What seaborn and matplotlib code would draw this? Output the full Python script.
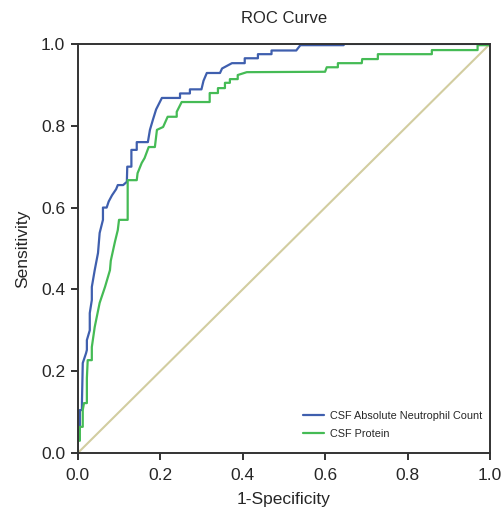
import pandas as pd
import seaborn as sns
import matplotlib.pyplot as plt

# courbe ROC - CSF Absolute Neutrophil Count
anc_fpr = [0.0, 0.0, 0.0, 0.005, 0.005, 0.01, 0.01, 0.012, 0.02, 0.022, 0.022, 0.029, 0.029,
           0.034, 0.034, 0.041, 0.049, 0.053, 0.061, 0.061, 0.07, 0.075, 0.083, 0.093, 0.097,
           0.11, 0.119, 0.12, 0.13, 0.13, 0.143, 0.143, 0.17, 0.175, 0.182, 0.19, 0.204,
           0.248, 0.248, 0.272, 0.272, 0.30, 0.305, 0.313, 0.345, 0.35, 0.374, 0.405, 0.405,
           0.437, 0.437, 0.47, 0.47, 0.53, 0.54, 0.645, 0.645, 1.0]
anc_tpr = [0.0, 0.01, 0.056, 0.056, 0.105, 0.105, 0.122, 0.22, 0.244, 0.252, 0.276, 0.30, 0.342,
           0.374, 0.406, 0.447, 0.489, 0.538, 0.57, 0.60, 0.60, 0.615, 0.63, 0.645, 0.655,
           0.655, 0.663, 0.70, 0.70, 0.741, 0.741, 0.76, 0.76, 0.79, 0.814, 0.84, 0.868,
           0.868, 0.879, 0.879, 0.889, 0.889, 0.91, 0.929, 0.929, 0.94, 0.953, 0.953, 0.965,
           0.965, 0.975, 0.975, 0.984, 0.984, 0.997, 0.997, 1.0, 1.0]

# courbe ROC - CSF Protein
prot_fpr = [0.0, 0.0, 0.005, 0.005, 0.012, 0.012, 0.015, 0.022, 0.022, 0.024, 0.034, 0.034,
            0.041, 0.053, 0.066, 0.078, 0.08, 0.09, 0.097, 0.10, 0.121, 0.121, 0.143, 0.145,
            0.155, 0.162, 0.172, 0.187, 0.192, 0.207, 0.218, 0.24, 0.24, 0.252, 0.32, 0.32,
            0.34, 0.34, 0.357, 0.357, 0.369, 0.369, 0.388, 0.388, 0.41, 0.60, 0.604, 0.631,
            0.631, 0.689, 0.69, 0.728, 0.728, 0.859, 0.859, 0.97, 0.97, 1.0, 1.0]
prot_tpr = [0.0, 0.03, 0.03, 0.064, 0.064, 0.105, 0.122, 0.122, 0.183, 0.227, 0.227, 0.259,
            0.308, 0.367, 0.406, 0.447, 0.47, 0.516, 0.545, 0.57, 0.57, 0.667, 0.667, 0.684,
            0.709, 0.721, 0.748, 0.748, 0.79, 0.797, 0.822, 0.822, 0.834, 0.858, 0.858, 0.88,
            0.88, 0.892, 0.892, 0.905, 0.905, 0.914, 0.914, 0.924, 0.931, 0.932, 0.943, 0.943,
            0.953, 0.953, 0.963, 0.963, 0.975, 0.975, 0.985, 0.985, 0.997, 0.997, 1.0]

ref_line = [0.0, 1.0]

df_anc = pd.DataFrame({'fpr': anc_fpr, 'tpr': anc_tpr})
df_prot = pd.DataFrame({'fpr': prot_fpr, 'tpr': prot_tpr})
df_ref = pd.DataFrame({'fpr': ref_line, 'tpr': ref_line})

sns.set_style('ticks')
plt.rcParams['font.family'] = ['Liberation Sans', 'DejaVu Sans']

fig = plt.figure(figsize=(5.02, 5.11), dpi=100)
ax = fig.add_axes([0.155, 0.1135, 0.821, 0.8005])

sns.lineplot(data=df_ref, x='fpr', y='tpr', sort=False, estimator=None, ax=ax,
             color='#d2cda0', linewidth=1.5)
sns.lineplot(data=df_anc, x='fpr', y='tpr', sort=False, estimator=None, ax=ax,
             color='#3f5fae', linewidth=1.6, label='CSF Absolute Neutrophil Count')
sns.lineplot(data=df_prot, x='fpr', y='tpr', sort=False, estimator=None, ax=ax,
             color='#45bb55', linewidth=1.6, label='CSF Protein')

ax.set_xlim(0, 1)
ax.set_ylim(0, 1)
ticks = [0.0, 0.2, 0.4, 0.6, 0.8, 1.0]
ax.set_xticks(ticks)
ax.set_yticks(ticks)
ax.set_xticklabels(['0.0', '0.2', '0.4', '0.6', '0.8', '1.0'], fontsize=12.5)
ax.set_yticklabels(['0.0', '0.2', '0.4', '0.6', '0.8', '1.0'], fontsize=12.5)
ax.tick_params(direction='out', length=5, width=1.3, color='#222222', pad=4)
ax.tick_params(axis='x', pad=6)
for s in ax.spines.values():
    s.set_visible(True)
    s.set_linewidth(1.4)
    s.set_color('#333333')

ax.set_title('ROC Curve', fontsize=12, pad=15)
ax.set_xlabel('1-Specificity', fontsize=12.5, labelpad=6)
ax.set_ylabel('Sensitivity', fontsize=12.5, labelpad=8)

ax.legend(loc='lower right', bbox_to_anchor=(1.005, 0.01), frameon=False, fontsize=7.8,
          handlelength=1.9, handletextpad=0.6, labelspacing=0.75)

plt.savefig('out.png', dpi=100)
